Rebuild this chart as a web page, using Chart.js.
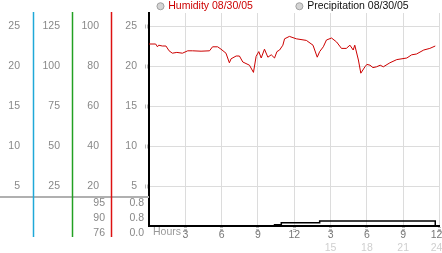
<!DOCTYPE html>
<html lang="en">
<head>
<meta charset="UTF-8" />
<title>Humidity 08/30/05</title>
<script src="https://cdn.jsdelivr.net/npm/chart.js"></script>
<style>
  html, body { margin: 0; padding: 0; background: #fff; }
</style>
</head>
<body>
<canvas id="myChart" width="442" height="253"></canvas>
<script>
// x axis: hours of the day
const hourTicks = [3, 6, 9, 12, 15, 18, 21, 24];
const hourLabels = ["3", "6", "9", "12", "3", "6", "9", "12"];
const hourLabels24 = ["", "", "", "", "15", "18", "21", "24"];

// left axes tick labels
const tempTicks = [5, 10, 15, 20, 25];
const otherTicks = [25, 50, 75, 100, 125];
const humTicks = [20, 40, 60, 80, 100];
const mainTicks = [5, 10, 15, 20, 25];

// humidity %
const humHours = [0, 0.55, 0.7, 0.8, 1.1, 1.4, 1.66, 1.93, 2.3, 2.76, 3.2, 3.6, 4.3, 5.0, 5.25, 5.67,
  5.95, 6.36, 6.64, 6.78, 7.2, 7.47, 7.75, 8.3, 8.63, 8.85, 9.07, 9.27, 9.54, 9.82, 10.1, 10.37,
  10.57, 10.79, 11.06, 11.2, 11.6, 12.17, 13.0, 13.55, 13.9, 14.1, 14.4, 14.66, 15.08, 15.5, 15.9,
  16.3, 16.6, 16.87, 17.0, 17.3, 17.5, 17.84, 18.0, 18.26, 18.5, 18.8, 19.1, 19.36, 19.9, 20.47,
  21.3, 21.7, 22.1, 22.7, 23.2, 23.65];
const humValues = [91, 91, 89.6, 90.4, 90, 90, 87.6, 86.4, 86.8, 86.4, 87.6, 87.6, 87.4, 87.6, 89.6, 89.6,
  88.4, 86.4, 81.6, 83.6, 85, 85, 82, 80.4, 76.8, 84.8, 87.2, 84, 88.4, 84.4, 85.6, 84,
  87.2, 88, 90.4, 93.6, 94.8, 93.6, 92.8, 90.4, 84.4, 87.2, 89.6, 93, 94, 92, 88.8,
  88.8, 90.4, 88, 90.4, 83, 76.4, 79.6, 80.8, 80.4, 79.2, 79.6, 80.4, 79.6, 81.6, 83.2,
  84, 85.6, 86, 88, 88.8, 90];

// precipitation (cumulative), step line
const precipHours = [0, 10.37, 10.93, 14.1, 23.65];
const precipValues = [0, 0.2, 0.5, 0.8, 0];

// max / avg / min table under the left axes
const humSummary = ["95", "90", "76"];
const precipSummary = ["0.8", "0.8", "0.0"];

Chart.defaults.font.family = "'Liberation Sans', Arial, sans-serif";
Chart.defaults.font.size = 10.5;

const legendColors = ["#cc0000", "#111111"];
const axisLineColors = { yA: "#1fa8d8", yB: "#22a022", yHum: "#dd1111" };

function useTicks(list) {
  return (scale) => {
    scale.ticks = list.map((v) => ({ value: v }));
  };
}
function fixedWidth(w) {
  return (scale) => {
    scale.width = w;
    scale.paddingTop = 0;
    scale.paddingBottom = 0;
  };
}
function fixedHeight(h) {
  return (scale) => {
    scale.height = h;
    scale.paddingLeft = 0;
    scale.paddingRight = 0;
  };
}

// legend sits in a thin strip above the plot
const legendStrip = {
  id: "legendStrip",
  afterInit(chart) {
    const legend = chart.legend;
    const fit = legend.fit;
    legend.fit = function () {
      fit.call(this);
      this.height = 21;
    };
  },
};

// coloured axis lines, separator and the small table on the left
const panelDecor = {
  id: "panelDecor",
  afterDraw(chart) {
    const { ctx, chartArea, scales } = chart;
    const b = chartArea.bottom;
    ctx.save();
    ctx.strokeStyle = "#b0b0b0";
    ctx.lineWidth = 2;
    ctx.beginPath();
    ctx.moveTo(0, b - 29);
    ctx.lineTo(chartArea.left, b - 29);
    ctx.stroke();

    Object.keys(axisLineColors).forEach((id) => {
      const x = Math.round(scales[id].right) + 0.5;
      ctx.strokeStyle = axisLineColors[id];
      ctx.lineWidth = 1.5;
      ctx.beginPath();
      ctx.moveTo(x, chartArea.top - 1);
      ctx.lineTo(x, b + 11);
      ctx.stroke();
    });

    ctx.font = "10.5px 'Liberation Sans', Arial, sans-serif";
    ctx.fillStyle = "#888";
    ctx.textAlign = "right";
    ctx.textBaseline = "middle";
    humSummary.forEach((t, i) => ctx.fillText(t, scales.yHum.right - 6, b - 23 + i * 15));
    precipSummary.forEach((t, i) => ctx.fillText(t, scales.y.right - 5, b - 23 + i * 15));

    ctx.textAlign = "left";
    ctx.fillStyle = "#999";
    ctx.fillText("Hours", chartArea.left + 4, b + 6);
    ctx.restore();
  },
};

const config = {
  type: "line",
  data: {
    datasets: [
      {
        label: "Humidity 08/30/05",
        data: humHours.map((h, i) => ({ x: h, y: humValues[i] })),
        borderColor: "#cc0000",
        borderWidth: 1,
        pointRadius: 0,
        tension: 0,
        yAxisID: "yHum",
      },
      {
        label: "Precipitation 08/30/05",
        data: precipHours.map((h, i) => ({ x: h, y: precipValues[i] })),
        borderColor: "#000",
        borderWidth: 1.5,
        pointRadius: 0,
        stepped: true,
        yAxisID: "yP",
      },
    ],
  },
  options: {
    responsive: false,
    animation: false,
    layout: { padding: { top: -8, right: 2.5, bottom: 0, left: 0 } },
    plugins: {
      tooltip: { enabled: false },
      legend: {
        fullSize: false,
        align: "start",
        labels: {
          usePointStyle: true,
          boxWidth: 5,
          boxHeight: 5,
          padding: 9,
          font: { size: 10.5 },
          generateLabels(chart) {
            return chart.data.datasets.map((ds, i) => ({
              text: ds.label + (i === 0 ? " ".repeat(12) : ""),
              fontColor: legendColors[i],
              fillStyle: "#d4d4d4",
              strokeStyle: "#a0a0a0",
              lineWidth: 1,
              pointStyle: "circle",
              hidden: !chart.isDatasetVisible(i),
              datasetIndex: i,
            }));
          },
        },
      },
    },
    scales: {
      x: {
        type: "linear",
        position: "bottom",
        min: 0,
        max: 24,
        afterBuildTicks: useTicks(hourTicks),
        afterFit: fixedHeight(14.5),
        grid: {
          color: "#dcdcdc",
          drawTicks: true,
          tickLength: 6,
          tickColor: "#bdbdbd",
          tickWidth: 3,
          tickBorderDash: [1, 1],
        },
        border: { color: "#000", width: 2 },
        ticks: {
          color: "#777",
          padding: -2,
          maxRotation: 0,
          autoSkip: false,
          font: { size: 10.5, lineHeight: 1 },
          callback: (v, i) => hourLabels[i] + (i === hourLabels.length - 1 ? "  " : ""),
        },
      },
      x2: {
        type: "linear",
        position: "bottom",
        min: 0,
        max: 24,
        afterBuildTicks: useTicks(hourTicks),
        afterFit: fixedHeight(12.5),
        grid: { display: false, drawTicks: false },
        border: { display: false },
        ticks: {
          color: "#cfcfcf",
          padding: 2,
          maxRotation: 0,
          autoSkip: false,
          font: { size: 10.5, lineHeight: 1 },
          callback: (v, i) => hourLabels24[i] + (i === hourLabels24.length - 1 ? "  " : ""),
        },
      },
      yA: {
        position: "left",
        weight: 4,
        min: 0,
        max: 26.625,
        afterBuildTicks: useTicks(tempTicks),
        afterFit: fixedWidth(33),
        grid: { display: false, drawTicks: false },
        border: { display: false },
        ticks: { color: "#888", padding: 13, autoSkip: false },
      },
      yB: {
        position: "left",
        weight: 3,
        min: 0,
        max: 133.125,
        afterBuildTicks: useTicks(otherTicks),
        afterFit: fixedWidth(39),
        grid: { display: false, drawTicks: false },
        border: { display: false },
        ticks: { color: "#888", padding: 12, autoSkip: false },
      },
      yHum: {
        position: "left",
        weight: 2,
        min: 0,
        max: 106.5,
        afterBuildTicks: useTicks(humTicks),
        afterFit: fixedWidth(39),
        grid: { display: false, drawTicks: false },
        border: { display: false },
        ticks: { color: "#888", padding: 12, autoSkip: false },
      },
      y: {
        position: "left",
        weight: 1,
        min: 0,
        max: 26.625,
        afterBuildTicks: useTicks(mainTicks),
        afterFit: fixedWidth(38),
        grid: {
          color: "#dcdcdc",
          drawTicks: true,
          tickLength: 4,
          tickColor: "#bdbdbd",
          tickWidth: 4,
          tickBorderDash: [1, 1],
        },
        border: { color: "#000", width: 2 },
        ticks: { color: "#888", padding: 8, autoSkip: false },
      },
      yP: {
        display: false,
        min: 0,
        max: 34,
      },
    },
  },
  plugins: [legendStrip, panelDecor],
};

new Chart(document.getElementById("myChart"), config);
</script>
</body>
</html>
